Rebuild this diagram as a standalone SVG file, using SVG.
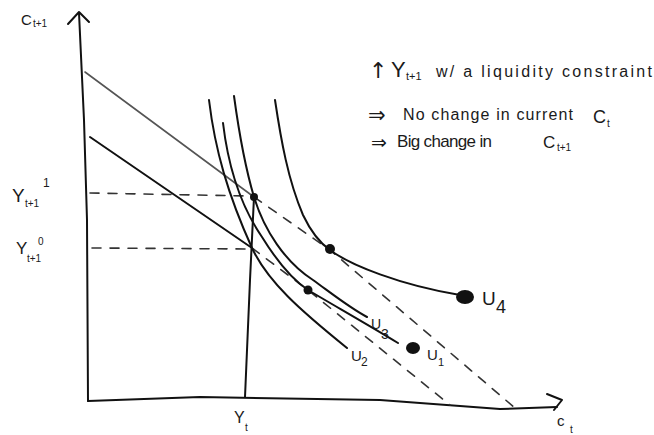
<svg xmlns="http://www.w3.org/2000/svg" width="654" height="435" viewBox="0 0 654 435">
<style>
.ink{fill:none;stroke:#111;stroke-width:2;stroke-linecap:round;stroke-linejoin:round}
.gray{fill:none;stroke:#555;stroke-width:1.6;stroke-linecap:round}
.dash{fill:none;stroke:#333;stroke-width:1.6;stroke-dasharray:9 9;stroke-linecap:round}
.t{font-family:"Liberation Sans","DejaVu Sans",sans-serif;fill:#1a1a1a}
.sym{font-family:"DejaVu Sans",sans-serif;fill:#1a1a1a}
.dot{fill:#111}
</style>
<rect width="654" height="435" fill="#fff"/>

<g id="axes">
  <polyline class="ink" points="79,13 84,120 87,220 88,401"/>
  <polyline class="ink" points="68,24 79,12 89,22"/>
  <polyline class="ink" points="88,401 200,397 380,400 500,409 557,407"/>
  <polyline class="ink" points="547,394 562,400 554,410"/>
  <text class="t" x="21" y="25" font-size="15">C</text>
  <text class="t" x="33" y="27" font-size="10">t+1</text>
  <text class="t" x="557" y="426" font-size="15">c</text>
  <text class="t" x="570" y="433" font-size="10">t</text>
</g>

<g id="yt-line">
  <polyline class="ink" points="254,197 250,280 245,397"/>
  <text class="t" x="234" y="423" font-size="16">Y</text>
  <text class="t" x="245" y="431" font-size="10">t</text>
</g>

<g id="budget-lines">
  <line class="gray" x1="85" y1="72" x2="254" y2="197"/>
  <line class="ink" x1="90" y1="137" x2="252" y2="248"/>
  <polyline class="dash" points="254,197 330,250 515,408"/>
  <polyline class="dash" points="252,248 308,290 450,405"/>
  <line class="dash" x1="90" y1="193" x2="250" y2="196"/>
  <line class="dash" x1="92" y1="248" x2="250" y2="249"/>
</g>

<g id="U2">
  <path class="ink" d="M209,100 C215,150 228,195 252,248 C268,282 300,310 347,348"/>
  <text class="t" x="351" y="361" font-size="15">U</text>
  <text class="t" x="361" y="366" font-size="12">2</text>
</g>

<g id="U1">
  <path class="ink" d="M223,123 C228,165 240,205 262,237 C275,258 290,278 308,290 C335,306 370,326 398,343"/>
  <ellipse class="dot" cx="413" cy="348" rx="7" ry="6"/>
  <text class="t" x="427" y="360" font-size="15">U</text>
  <text class="t" x="438" y="366" font-size="11">1</text>
</g>

<g id="U3">
  <path class="ink" d="M234,96 C240,140 246,170 254,197 C264,230 285,262 313,280 C335,296 350,308 367,317"/>
  <text class="t" x="371" y="329" font-size="14">U</text>
  <text class="t" x="381" y="339" font-size="14">3</text>
</g>

<g id="U4">
  <path class="ink" d="M275,100 C281,140 288,180 303,215 C312,234 320,243 330,250 C350,265 400,285 460,295"/>
  <ellipse class="dot" cx="465" cy="297" rx="9" ry="7"/>
  <text class="t" x="482" y="305" font-size="19">U</text>
  <text class="t" x="496" y="313" font-size="18">4</text>
</g>

<g id="points">
  <circle class="dot" cx="254" cy="197" r="4"/>
  <circle class="dot" cx="330" cy="249" r="5"/>
  <circle class="dot" cx="308" cy="290" r="4.5"/>
</g>

<g id="left-labels">
  <text class="t" x="12" y="202" font-size="19">Y</text>
  <text class="t" x="25" y="207" font-size="10">t+1</text>
  <text class="t" x="43" y="187" font-size="12">1</text>
  <text class="t" x="16" y="254" font-size="17">Y</text>
  <text class="t" x="27" y="262" font-size="10">t+1</text>
  <text class="t" x="38" y="245" font-size="10">0</text>
</g>

<g id="notes">
  <text class="sym" x="369" y="78" font-size="22">↑</text>
  <text class="t" x="391" y="77" font-size="22">Y</text>
  <text class="t" x="406" y="80" font-size="11">t+1</text>
  <text class="t" x="436" y="77" font-size="16" textLength="216" lengthAdjust="spacing">w/ a liquidity constraint</text>
  <text class="sym" x="368" y="122" font-size="21">⇒</text>
  <text class="t" x="403" y="120" font-size="16" textLength="170" lengthAdjust="spacing">No change in current</text>
  <text class="t" x="593" y="123" font-size="18">C</text>
  <text class="t" x="607" y="127" font-size="10">t</text>
  <text class="sym" x="371" y="149" font-size="19">⇒</text>
  <text class="t" x="397" y="147" font-size="17" textLength="95" lengthAdjust="spacing">Big change in</text>
  <text class="t" x="543" y="148" font-size="17">C</text>
  <text class="t" x="557" y="151" font-size="10">t+1</text>
</g>
</svg>
